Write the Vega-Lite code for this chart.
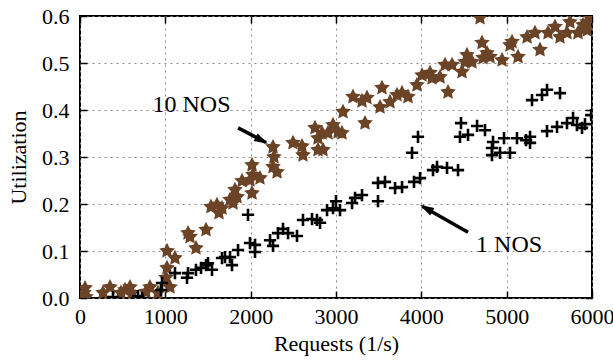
{
  "$schema": "https://vega.github.io/schema/vega-lite/v6.json",
  "width": 512,
  "height": 282,
  "autosize": {"type": "none"},
  "padding": {"left": 80, "top": 16, "right": 21, "bottom": 64},
  "background": "white",
  "config": {
    "view": {"stroke": "black", "strokeWidth": 2},
    "font": "Liberation Serif",
    "axis": {
      "labelFont": "Liberation Serif",
      "labelFontSize": 22,
      "titleFont": "Liberation Serif",
      "titleFontSize": 22,
      "titleFontWeight": "normal",
      "labelColor": "black",
      "titleColor": "black",
      "domain": false,
      "tickColor": "black",
      "tickWidth": 1.5,
      "tickSize": -7,
      "gridColor": "#8a8a8a",
      "gridDash": [2, 4],
      "gridWidth": 1
    }
  },
  "datasets": {
    "stars": [
      {"x": 47, "y": 0.011}, {"x": 70, "y": 0.002}, {"x": 59, "y": 0.021}, {"x": 270, "y": 0.011}, {"x": 352, "y": 0.023},
      {"x": 480, "y": 0.011}, {"x": 527, "y": 0.017}, {"x": 586, "y": 0.023}, {"x": 609, "y": 0.011}, {"x": 773, "y": 0.013},
      {"x": 820, "y": 0.023}, {"x": 914, "y": 0.011}, {"x": 1008, "y": 0.043}, {"x": 1020, "y": 0.064}, {"x": 1020, "y": 0.100},
      {"x": 1055, "y": 0.023}, {"x": 1113, "y": 0.085}, {"x": 1266, "y": 0.138}, {"x": 1289, "y": 0.130}, {"x": 1359, "y": 0.106},
      {"x": 1477, "y": 0.145}, {"x": 1535, "y": 0.194}, {"x": 1605, "y": 0.198}, {"x": 1629, "y": 0.181}, {"x": 1664, "y": 0.191},
      {"x": 1758, "y": 0.209}, {"x": 1793, "y": 0.202}, {"x": 1816, "y": 0.230}, {"x": 1840, "y": 0.215}, {"x": 1899, "y": 0.249},
      {"x": 1992, "y": 0.251}, {"x": 2016, "y": 0.283}, {"x": 2027, "y": 0.262}, {"x": 2016, "y": 0.223}, {"x": 2109, "y": 0.255},
      {"x": 2262, "y": 0.321}, {"x": 2273, "y": 0.300}, {"x": 2262, "y": 0.279}, {"x": 2309, "y": 0.268}, {"x": 2496, "y": 0.330},
      {"x": 2602, "y": 0.323}, {"x": 2613, "y": 0.304}, {"x": 2754, "y": 0.362}, {"x": 2789, "y": 0.340}, {"x": 2789, "y": 0.315},
      {"x": 2906, "y": 0.351}, {"x": 2836, "y": 0.351}, {"x": 2848, "y": 0.315}, {"x": 2965, "y": 0.368}, {"x": 3024, "y": 0.353},
      {"x": 3070, "y": 0.351}, {"x": 3082, "y": 0.396}, {"x": 3199, "y": 0.428}, {"x": 3305, "y": 0.419}, {"x": 3363, "y": 0.426},
      {"x": 3340, "y": 0.372}, {"x": 3516, "y": 0.406}, {"x": 3539, "y": 0.447}, {"x": 3633, "y": 0.417}, {"x": 3715, "y": 0.432},
      {"x": 3774, "y": 0.436}, {"x": 3844, "y": 0.428}, {"x": 3949, "y": 0.453}, {"x": 4008, "y": 0.474}, {"x": 4102, "y": 0.479},
      {"x": 4125, "y": 0.468}, {"x": 4219, "y": 0.470}, {"x": 4278, "y": 0.496}, {"x": 4313, "y": 0.438}, {"x": 4360, "y": 0.496},
      {"x": 4477, "y": 0.481}, {"x": 4512, "y": 0.502}, {"x": 4535, "y": 0.517}, {"x": 4594, "y": 0.502}, {"x": 4688, "y": 0.596},
      {"x": 4711, "y": 0.543}, {"x": 4723, "y": 0.511}, {"x": 4770, "y": 0.521}, {"x": 4805, "y": 0.513}, {"x": 4946, "y": 0.506},
      {"x": 5039, "y": 0.538}, {"x": 5063, "y": 0.545}, {"x": 5133, "y": 0.513}, {"x": 5239, "y": 0.555}, {"x": 5332, "y": 0.564},
      {"x": 5391, "y": 0.528}, {"x": 5485, "y": 0.564}, {"x": 5567, "y": 0.577}, {"x": 5625, "y": 0.555}, {"x": 5707, "y": 0.564},
      {"x": 5742, "y": 0.587}, {"x": 5836, "y": 0.564}, {"x": 5895, "y": 0.581}, {"x": 5942, "y": 0.587}, {"x": 5942, "y": 0.570},
      {"x": 5977, "y": 0.596}
    ],
    "crosses": [
      {"x": 387, "y": 0.002}, {"x": 680, "y": 0.004}, {"x": 727, "y": 0.0}, {"x": 949, "y": 0.017}, {"x": 961, "y": 0.032},
      {"x": 1113, "y": 0.053}, {"x": 1254, "y": 0.043}, {"x": 1266, "y": 0.053}, {"x": 1359, "y": 0.060}, {"x": 1418, "y": 0.064},
      {"x": 1477, "y": 0.070}, {"x": 1500, "y": 0.074}, {"x": 1547, "y": 0.060}, {"x": 1664, "y": 0.085}, {"x": 1699, "y": 0.087},
      {"x": 1758, "y": 0.087}, {"x": 1781, "y": 0.070}, {"x": 1852, "y": 0.102}, {"x": 1969, "y": 0.177}, {"x": 1992, "y": 0.117},
      {"x": 2051, "y": 0.113}, {"x": 2051, "y": 0.098}, {"x": 2227, "y": 0.123}, {"x": 2262, "y": 0.111}, {"x": 2320, "y": 0.138},
      {"x": 2379, "y": 0.147}, {"x": 2438, "y": 0.138}, {"x": 2543, "y": 0.132}, {"x": 2613, "y": 0.166}, {"x": 2719, "y": 0.168},
      {"x": 2777, "y": 0.166}, {"x": 2813, "y": 0.160}, {"x": 2895, "y": 0.187}, {"x": 2965, "y": 0.191}, {"x": 3000, "y": 0.206},
      {"x": 3047, "y": 0.187}, {"x": 3188, "y": 0.202}, {"x": 3223, "y": 0.213}, {"x": 3305, "y": 0.219}, {"x": 3492, "y": 0.206},
      {"x": 3492, "y": 0.245}, {"x": 3574, "y": 0.247}, {"x": 3692, "y": 0.234}, {"x": 3774, "y": 0.236}, {"x": 3891, "y": 0.309},
      {"x": 3961, "y": 0.343}, {"x": 3914, "y": 0.247}, {"x": 3985, "y": 0.255}, {"x": 4137, "y": 0.272}, {"x": 4184, "y": 0.279},
      {"x": 4301, "y": 0.277}, {"x": 4430, "y": 0.272}, {"x": 4465, "y": 0.372}, {"x": 4453, "y": 0.343}, {"x": 4547, "y": 0.347},
      {"x": 4653, "y": 0.366}, {"x": 4746, "y": 0.357}, {"x": 4840, "y": 0.332}, {"x": 4828, "y": 0.319}, {"x": 4828, "y": 0.304},
      {"x": 4922, "y": 0.309}, {"x": 5039, "y": 0.309}, {"x": 4969, "y": 0.340}, {"x": 5121, "y": 0.340}, {"x": 5227, "y": 0.336},
      {"x": 5274, "y": 0.343}, {"x": 5274, "y": 0.330}, {"x": 5297, "y": 0.421}, {"x": 5414, "y": 0.432}, {"x": 5473, "y": 0.443},
      {"x": 5625, "y": 0.436}, {"x": 5473, "y": 0.355}, {"x": 5590, "y": 0.364}, {"x": 5707, "y": 0.372}, {"x": 5778, "y": 0.383},
      {"x": 5824, "y": 0.368}, {"x": 5883, "y": 0.362}, {"x": 5918, "y": 0.370}, {"x": 5990, "y": 0.389}
    ],
    "arrows": [
      {"arrow": "a10", "x": 1852, "y": 0.362}, {"arrow": "a10", "x": 2180, "y": 0.331},
      {"arrow": "a1", "x": 4547, "y": 0.140}, {"arrow": "a1", "x": 4010, "y": 0.195}
    ],
    "tip10": [{"x": 2203, "y": 0.328}],
    "tip1": [{"x": 3985, "y": 0.198}],
    "notes": [
      {"x": 1307, "y": 0.396, "label": "10 NOS"},
      {"x": 5028, "y": 0.098, "label": "1 NOS"}
    ]
  },
  "layer": [
    {
      "data": {"name": "stars"},
      "mark": {
        "type": "point",
        "shape": "M0,-1L0.294,-0.405L0.951,-0.309L0.476,0.155L0.588,0.809L0,0.5L-0.588,0.809L-0.476,0.155L-0.951,-0.309L-0.294,-0.405Z",
        "filled": true,
        "fill": "#6b4428",
        "opacity": 1,
        "strokeWidth": 0,
        "size": 270,
        "clip": true
      },
      "encoding": {
        "x": {
          "field": "x", "type": "quantitative",
          "scale": {"domain": [0, 6000], "nice": false, "zero": false},
          "axis": {"orient": "bottom", "title": "Requests (1/s)", "values": [0, 1000, 2000, 3000, 4000, 5000, 6000], "format": "d", "labelPadding": 15, "titlePadding": 6, "grid": true, "labelFlush": false}
        },
        "y": {
          "field": "y", "type": "quantitative",
          "scale": {"domain": [0, 0.6], "nice": false, "zero": false},
          "axis": {"orient": "left", "title": "Utilization", "values": [0, 0.1, 0.2, 0.3, 0.4, 0.5, 0.6], "format": ".1f", "labelPadding": 18, "titlePadding": 11, "grid": true, "labelFlush": false}
        }
      }
    },
    {
      "data": {"name": "crosses"},
      "mark": {
        "type": "point",
        "shape": "M-1,0L1,0M0,-1L0,1",
        "filled": false,
        "stroke": "black",
        "strokeWidth": 2.6,
        "opacity": 1,
        "size": 150,
        "clip": true
      },
      "encoding": {
        "x": {
          "field": "x", "type": "quantitative",
          "axis": {"orient": "top", "title": null, "labels": false, "grid": false, "values": [0, 1000, 2000, 3000, 4000, 5000, 6000]}
        },
        "y": {
          "field": "y", "type": "quantitative",
          "axis": {"orient": "right", "title": null, "labels": false, "grid": false, "values": [0, 0.1, 0.2, 0.3, 0.4, 0.5, 0.6]}
        }
      }
    },
    {
      "data": {"name": "arrows"},
      "mark": {"type": "line", "stroke": "black", "strokeWidth": 3.5, "strokeCap": "butt"},
      "encoding": {
        "x": {"field": "x", "type": "quantitative", "axis": null},
        "y": {"field": "y", "type": "quantitative", "axis": null},
        "detail": {"field": "arrow"}
      }
    },
    {
      "data": {"name": "tip10"},
      "mark": {"type": "point", "shape": "M0,0L-2,-0.6L-2,0.6Z", "filled": true, "fill": "black", "opacity": 1, "size": 196, "angle": 28},
      "encoding": {
        "x": {"field": "x", "type": "quantitative", "axis": null},
        "y": {"field": "y", "type": "quantitative", "axis": null}
      }
    },
    {
      "data": {"name": "tip1"},
      "mark": {"type": "point", "shape": "M0,0L-2,-0.6L-2,0.6Z", "filled": true, "fill": "black", "opacity": 1, "size": 196, "angle": 209},
      "encoding": {
        "x": {"field": "x", "type": "quantitative", "axis": null},
        "y": {"field": "y", "type": "quantitative", "axis": null}
      }
    },
    {
      "data": {"name": "notes"},
      "mark": {"type": "text", "font": "Liberation Serif", "fontSize": 24, "align": "center", "baseline": "alphabetic", "color": "black"},
      "encoding": {
        "x": {"field": "x", "type": "quantitative", "axis": null},
        "y": {"field": "y", "type": "quantitative", "axis": null},
        "text": {"field": "label"}
      }
    }
  ],
  "resolve": {"axis": {"x": "independent", "y": "independent"}}
}
